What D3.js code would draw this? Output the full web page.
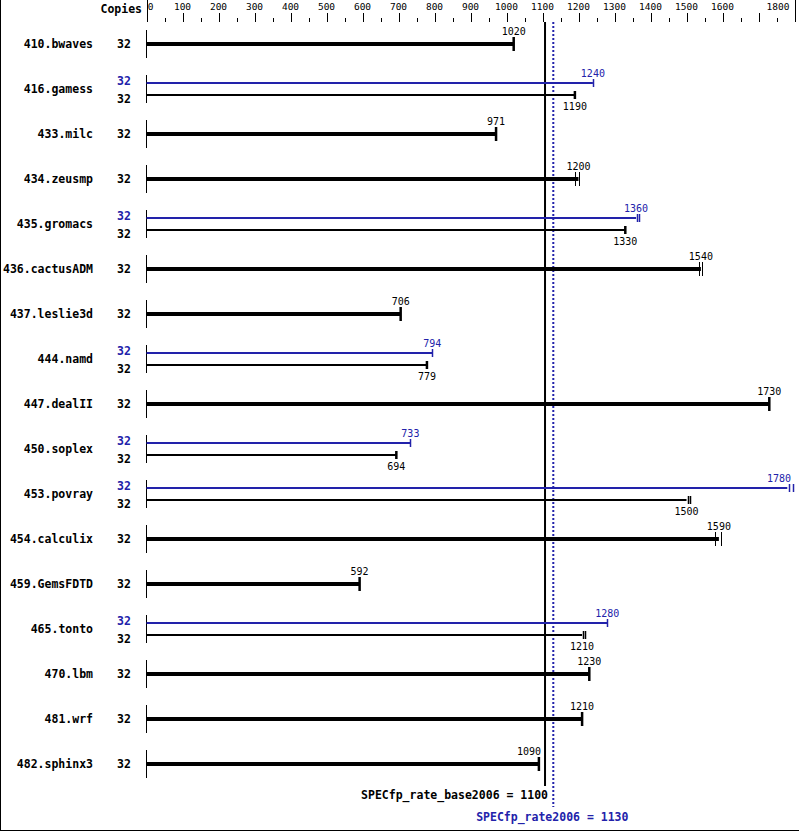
<!DOCTYPE html>
<html>
<head>
<meta charset="utf-8">
<script src="https://cdn.jsdelivr.net/npm/d3@7"></script>
<style>
html,body{margin:0;padding:0;background:#fff;}
svg{display:block;}
text{font-family:"DejaVu Sans Mono","Liberation Mono",monospace;}
</style>
</head>
<body>
<svg id="chart" width="799" height="831"></svg>
<script>
// ---- data ----
const benchmarks = ["410.bwaves","416.gamess","433.milc","434.zeusmp","435.gromacs","436.cactusADM","437.leslie3d","444.namd","447.dealII","450.soplex","453.povray","454.calculix","459.GemsFDTD","465.tonto","470.lbm","481.wrf","482.sphinx3"];
const copies = [32,32,32,32,32,32,32,32,32,32,32,32,32,32,32,32,32];
const baseValues = [1020,1190,971,1200,1330,1540,706,779,1730,694,1500,1590,592,1210,1230,1210,1090];
const peakValues = [null,1240,null,null,1360,null,null,794,null,733,1780,null,null,1280,null,null,null];
// individual run ticks where runs visibly differ
const baseRuns = [null,null,null,[1189,1200],null,[1536,1544],null,null,null,null,[1503,1510],[1580,1596],null,[1212,1218],null,null,null];
const peakRuns = [null,null,null,null,[1362,1369],null,null,null,null,null,[1785,1796],null,null,null,null,null,null];
const tickValues = [0,100,200,300,400,500,600,700,800,900,1000,1100,1200,1300,1400,1500,1600,1700,1800];
const tickLabels = ["0","100","200","300","400","500","600","700","800","900","1000","1100","1200","1300","1400","1500","1600","","1800"];
const minorTicks = [50,150,250,350,450,550,650,750,850,950,1050,1150,1250,1350,1450,1550,1650,1750];
const baseMean = 1107, baseMeanLabel = "SPECfp_rate_base2006 = 1100";
const peakMean = 1130, peakMeanLabel = "SPECfp_rate2006 = 1130";

const BLUE = "#2222aa";
const svg = d3.select("#chart");
const x = d3.scaleLinear().domain([0,1800]).range([146.5,794.5]);
const y = d3.scaleLinear().domain([0,1]).range([44,89]); // row index -> center
const fmt = v => String(v);
const LABEL_HALF = 12, RIGHT_LIMIT = 791;
// place a value label centred on its end, but keep it inside the frame and off the mean line
function labelPos(v){
  let cx = x(v);
  if (cx + LABEL_HALF > RIGHT_LIMIT) cx = RIGHT_LIMIT - LABEL_HALF;
  const m = x(baseMean);
  if (cx < m && cx + LABEL_HALF > m - 3) cx = m - 4 - LABEL_HALF;
  return cx;
}

// border
svg.append("line").attr("x1",0.5).attr("x2",0.5).attr("y1",0).attr("y2",831).attr("stroke","#000");
svg.append("line").attr("x1",0).attr("x2",799).attr("y1",830.5).attr("y2",830.5).attr("stroke","#000");

// top axis
const axisG = svg.append("g");
axisG.selectAll("line.major").data(tickValues).join("line")
  .attr("x1",d=>Math.round(x(d))+0.5).attr("x2",d=>Math.round(x(d))+0.5)
  .attr("y1",d=>(d===0||d===1800)?0:13).attr("y2",22).attr("stroke","#000");
axisG.selectAll("line.minor").data(minorTicks).join("line")
  .attr("x1",d=>Math.round(x(d))+0.5).attr("x2",d=>Math.round(x(d))+0.5)
  .attr("y1",18).attr("y2",22).attr("stroke","#000");
axisG.selectAll("text").data(tickValues.map((v,i)=>({v,l:tickLabels[i]}))).join("text")
  .attr("x",d=>d.v===0?x(0)+4:(d.v===1800?x(1800)-5:x(d.v)))
  .attr("y",10)
  .attr("text-anchor",d=>d.v===0?"middle":(d.v===1800?"end":"middle"))
  .attr("font-size","9.5px").text(d=>d.l);
svg.append("text").attr("x",142).attr("y",13).attr("text-anchor","end")
  .attr("font-size","11.5px").attr("font-weight","bold").text("Copies");

// mean lines (drawn under bars)
svg.append("line").attr("x1",x(baseMean)).attr("x2",x(baseMean)).attr("y1",22).attr("y2",786)
  .attr("stroke","#000").attr("stroke-width",2);
svg.append("line").attr("x1",x(peakMean)).attr("x2",x(peakMean)).attr("y1",22).attr("y2",807)
  .attr("stroke",BLUE).attr("stroke-width",2).attr("stroke-dasharray","2,2");

const rows = benchmarks.map((b,i)=>({b,i,copies:copies[i],base:baseValues[i],peak:peakValues[i],bRuns:baseRuns[i],pRuns:peakRuns[i]}));
const g = svg.selectAll("g.row").data(rows).join("g").attr("class","row");

g.each(function(d){
  const s = d3.select(this);
  const cy = Math.round(y(d.i));
  // left axis segment
  s.append("line").attr("x1",x(0)).attr("x2",x(0)).attr("y1",cy-14).attr("y2",cy+14).attr("stroke","#000");
  s.append("text").attr("x",93).attr("y",cy+4).attr("text-anchor","end")
    .attr("font-size","11.5px").attr("font-weight","bold").text(d.b);
  if (d.peak == null) {
    s.append("text").attr("x",124).attr("y",cy+4).attr("text-anchor","middle")
      .attr("font-size","11.5px").attr("font-weight","bold").text(d.copies);
    s.append("line").attr("x1",x(0)).attr("x2",x(d.base)).attr("y1",cy).attr("y2",cy)
      .attr("stroke","#000").attr("stroke-width",4);
    if (d.bRuns) {
      d.bRuns.forEach(r=>s.append("line").attr("x1",Math.round(x(r))+0.5).attr("x2",Math.round(x(r))+0.5)
        .attr("y1",cy-7).attr("y2",cy+7).attr("stroke","#000").attr("stroke-width",1));
    } else {
      s.append("line").attr("x1",x(d.base)).attr("x2",x(d.base)).attr("y1",cy-7).attr("y2",cy+7)
        .attr("stroke","#000").attr("stroke-width",2.5);
    }
    s.append("text").attr("x",labelPos(d.base)).attr("y",cy-9).attr("text-anchor","middle")
      .attr("font-size","10px").text(fmt(d.base));
  } else {
    const yp = cy-6, yb = cy+6;
    s.append("text").attr("x",124).attr("y",yp+2).attr("text-anchor","middle")
      .attr("font-size","11.5px").attr("font-weight","bold").attr("fill",BLUE).text(d.copies);
    s.append("text").attr("x",124).attr("y",yb+8).attr("text-anchor","middle")
      .attr("font-size","11.5px").attr("font-weight","bold").text(d.copies);
    // peak
    s.append("line").attr("x1",x(0)).attr("x2",x(d.peak)).attr("y1",yp).attr("y2",yp)
      .attr("stroke",BLUE).attr("stroke-width",2);
    (d.pRuns || [d.peak]).forEach(r=>s.append("line").attr("x1",Math.round(x(r))+0.5).attr("x2",Math.round(x(r))+0.5)
      .attr("y1",yp-4).attr("y2",yp+4).attr("stroke",BLUE).attr("stroke-width",1.5));
    s.append("text").attr("x",labelPos(d.peak)).attr("y",yp-6).attr("text-anchor","middle")
      .attr("font-size","10px").attr("fill",BLUE).text(fmt(d.peak));
    // base
    s.append("line").attr("x1",x(0)).attr("x2",x(d.base)).attr("y1",yb).attr("y2",yb)
      .attr("stroke","#000").attr("stroke-width",2);
    if (d.bRuns) {
      d.bRuns.forEach(r=>s.append("line").attr("x1",Math.round(x(r))+0.5).attr("x2",Math.round(x(r))+0.5)
        .attr("y1",yb-4).attr("y2",yb+4).attr("stroke","#000").attr("stroke-width",1.5));
    } else {
      s.append("line").attr("x1",x(d.base)).attr("x2",x(d.base)).attr("y1",yb-4).attr("y2",yb+4)
        .attr("stroke","#000").attr("stroke-width",2.5);
    }
    s.append("text").attr("x",x(d.base)).attr("y",yb+15).attr("text-anchor","middle")
      .attr("font-size","10px").text(fmt(d.base));
  }
});

// mean labels
svg.append("text").attr("x",x(baseMean)+3).attr("y",799).attr("text-anchor","end")
  .attr("font-size","11.5px").attr("font-weight","bold").text(baseMeanLabel);
svg.append("text").attr("x",x(peakMean)-1).attr("y",821).attr("text-anchor","middle")
  .attr("font-size","11.5px").attr("font-weight","bold").attr("fill",BLUE).text(peakMeanLabel);
</script>
</body>
</html>
